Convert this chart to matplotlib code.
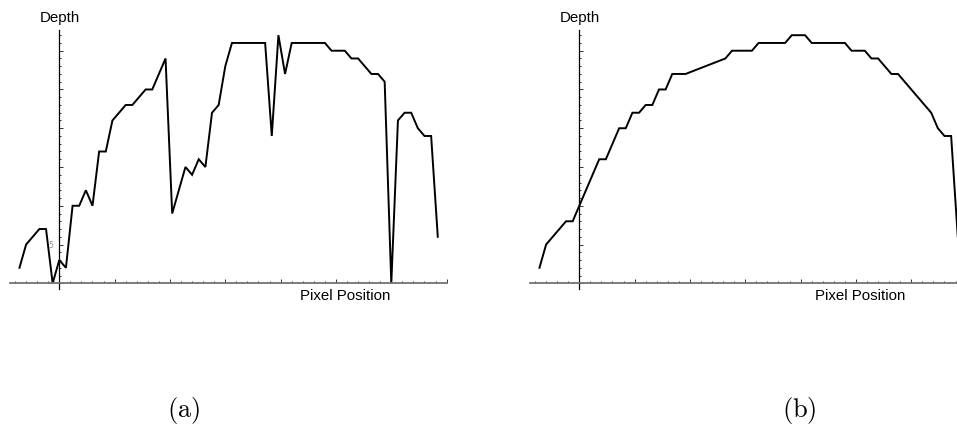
import matplotlib
matplotlib.use("Agg")
import matplotlib.pyplot as plt
from matplotlib.ticker import MultipleLocator

# --- data ---
pos_a = [-18, -15, -12, -9, -6, -3, 0, 3, 6, 9, 12, 15, 18, 21, 24, 27,
         30, 33, 36, 39, 42, 45, 48, 51, 54, 57, 60, 63, 66, 69, 72, 75,
         78, 81, 84, 87, 90, 93, 96, 99, 102, 105, 108, 111, 114, 117, 120,
         123, 126, 129, 132, 135, 138, 141, 144, 147, 150, 153, 156, 159,
         162, 165, 168, 171]
depth_a = [2, 5, 6, 7, 7, 0, 3, 2, 10, 10, 12, 10, 17, 17, 21, 22,
           23, 23, 24, 25, 25, 27, 29, 9, 12, 15, 14, 16, 15, 22, 23, 28,
           31, 31, 31, 31, 31, 31, 19, 32, 27, 31, 31, 31, 31, 31, 31,
           30, 30, 30, 29, 29, 28, 27, 27, 26, 0, 21, 22, 22,
           20, 19, 19, 6]

pos_b = [-18, -15, -6, -3, 0, 9, 12, 18, 21, 24, 27, 30, 33, 36, 39, 42,
         48, 66, 69, 78, 81, 93, 96, 102, 105, 120, 123, 129, 132, 135,
         141, 144, 159, 162, 165, 168, 171]
depth_b = [2, 5, 8, 8, 10, 16, 16, 20, 20, 22, 22, 23, 23, 25, 25, 27,
           27, 29, 30, 30, 31, 31, 32, 32, 31, 31, 30, 30, 29, 29,
           27, 27, 22, 20, 19, 19, 6]

ylabel = "Depth"
xlabel = "Pixel Position"

W, H = 957, 425
PX_X = 2.2133   # pixels per x unit
PX_Y = 7.753    # pixels per depth unit


def make_panel(fig, origin_x, left, right, xs, ys, show_five):
    top, bottom, origin_y = 30, 289.3, 283.3
    ax = fig.add_axes([left / W, 1 - bottom / H, (right - left) / W, (bottom - top) / H])
    ax.set_xlim((left - origin_x) / PX_X, (right - origin_x) / PX_X)
    ax.plot(xs, ys, color="black", lw=1.4, solid_joinstyle="miter")

    for side in ("top", "right"):
        ax.spines[side].set_visible(False)
    ax.spines["left"].set_position(("data", 0))
    ax.spines["bottom"].set_position(("data", 0))
    ax.spines["left"].set_color("black")
    ax.spines["left"].set_linewidth(0.9)
    ax.spines["bottom"].set_color("0.45")
    ax.spines["bottom"].set_linewidth(1.3)

    ax.xaxis.set_major_locator(MultipleLocator(25))
    ax.xaxis.set_minor_locator(MultipleLocator(5))
    ax.yaxis.set_major_locator(MultipleLocator(5))
    ax.yaxis.set_minor_locator(MultipleLocator(1))
    ax.tick_params(axis="both", which="both", direction="in", color="0.2", width=0.7)
    ax.tick_params(axis="both", which="major", length=3)
    ax.tick_params(axis="both", which="minor", length=1.6)
    ax.set_xticklabels([])
    ax.set_yticks(ax.get_yticks())
    ax.set_yticklabels(["5" if (show_five and abs(t - 5) < 1e-9) else "" for t in ax.get_yticks()])
    ax.tick_params(axis="y", labelsize=5.5, labelcolor="0.55", pad=4.5)
    ax.set_ylim((origin_y - bottom) / PX_Y, (origin_y - top) / PX_Y)
    return ax


plt.rcParams["mathtext.fontset"] = "cm"
fig = plt.figure(figsize=(W / 100, H / 100), dpi=100)

make_panel(fig, 59.3, 10, 446.7, pos_a, depth_a, True)
make_panel(fig, 579.3, 530, 957, pos_b, depth_b, False)

font = dict(family="Liberation Sans", fontsize=10.8)
fig.text(60.3 / W, 1 - 18 / H, ylabel, ha="center", va="center", **font)
fig.text(580 / W, 1 - 18 / H, ylabel, ha="center", va="center", **font)
fig.text(390 / W, 1 - 296 / H, xlabel, ha="right", va="center", **font)
fig.text(905 / W, 1 - 296 / H, xlabel, ha="right", va="center", **font)

fig.text(183.5 / W, 1 - 411 / H, r"$\mathrm{(a)}$", ha="center", va="center", fontsize=19)
fig.text(799 / W, 1 - 411 / H, r"$\mathrm{(b)}$", ha="center", va="center", fontsize=19)

fig.savefig("out.png", dpi=100)
